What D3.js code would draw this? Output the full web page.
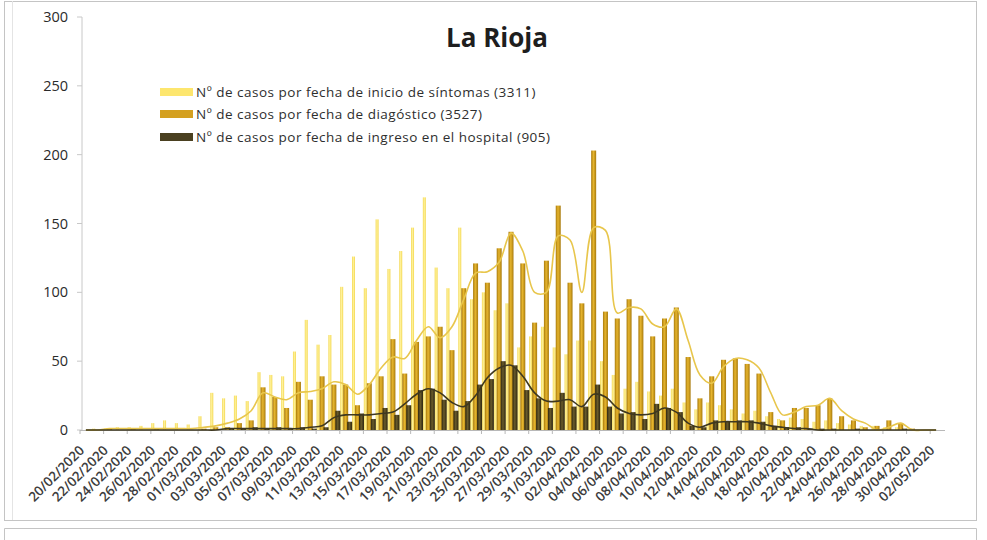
<!DOCTYPE html>
<meta charset="utf-8">
<script src="https://d3js.org/d3.v7.min.js"></script>
<style>
  body { margin: 0; background: #fff; }
  text { font-family: "Open Sans", sans-serif; }
</style>
<div id="chart"></div>
<script>
// days 20/02/2020 .. 02/05/2020
var dates = ["20/02/2020","21/02/2020","22/02/2020","23/02/2020","24/02/2020","25/02/2020","26/02/2020","27/02/2020","28/02/2020","29/02/2020",
  "01/03/2020","02/03/2020","03/03/2020","04/03/2020","05/03/2020","06/03/2020","07/03/2020","08/03/2020","09/03/2020","10/03/2020",
  "11/03/2020","12/03/2020","13/03/2020","14/03/2020","15/03/2020","16/03/2020","17/03/2020","18/03/2020","19/03/2020","20/03/2020",
  "21/03/2020","22/03/2020","23/03/2020","24/03/2020","25/03/2020","26/03/2020","27/03/2020","28/03/2020","29/03/2020","30/03/2020",
  "31/03/2020","01/04/2020","02/04/2020","03/04/2020","04/04/2020","05/04/2020","06/04/2020","07/04/2020","08/04/2020","09/04/2020",
  "10/04/2020","11/04/2020","12/04/2020","13/04/2020","14/04/2020","15/04/2020","16/04/2020","17/04/2020","18/04/2020","19/04/2020",
  "20/04/2020","21/04/2020","22/04/2020","23/04/2020","24/04/2020","25/04/2020","26/04/2020","27/04/2020","28/04/2020","29/04/2020",
  "30/04/2020","01/05/2020","02/05/2020"];

// shown labels (every 2 days)
var tickLabels = ["20/02/2020","22/02/2020","24/02/2020","26/02/2020","28/02/2020","01/03/2020","03/03/2020","05/03/2020","07/03/2020",
  "09/03/2020","11/03/2020","13/03/2020","15/03/2020","17/03/2020","19/03/2020","21/03/2020","23/03/2020","25/03/2020","27/03/2020",
  "29/03/2020","31/03/2020","02/04/2020","04/04/2020","06/04/2020","08/04/2020","10/04/2020","12/04/2020","14/04/2020","16/04/2020",
  "18/04/2020","20/04/2020","22/04/2020","24/04/2020","26/04/2020","28/04/2020","30/04/2020","02/05/2020"];

// bars
var sintomas = [0,1,1,2,2,3,5,7,5,4,
  10,27,23,25,21,42,40,39,57,80,
  62,69,104,126,103,153,117,130,147,169,
  118,103,147,95,100,87,92,60,68,75,
  60,55,65,65,50,40,30,35,28,25,
  30,20,15,20,18,15,12,14,10,8,
  9,8,6,7,5,4,3,3,2,2,
  1,0,0];
var diagnostico = [0,0,1,0,1,0,1,0,0,0,
  1,2,2,5,7,31,24,16,35,22,
  39,33,33,18,34,39,66,41,64,68,
  75,58,103,121,107,132,144,121,78,123,
  163,107,92,203,86,81,95,83,68,81,
  89,53,23,39,51,52,48,41,13,7,
  16,16,18,23,10,7,2,3,7,5,
  1,0,0];
var ingreso = [0,0,0,0,0,0,0,0,0,0,
  0,0,1,1,2,1,2,1,2,1,
  2,14,6,12,8,16,11,18,29,30,
  22,14,21,33,37,50,47,29,23,16,
  27,17,17,33,17,12,13,8,19,16,
  13,3,2,7,6,7,7,6,3,2,
  2,1,1,1,0,1,0,0,0,1,
  0,0,0];

// smoothed lines
var lineaDiagnostico = [0,0,1,1,1,1,1,1,1,1,
  2,3,5,8,14,27,24,22,27,28,
  30,35,33,26,33,45,53,52,65,75,
  67,75,95,114,115,122,143,130,100,100,
  141,138,100,147,145,85,89,88,77,75,
  88,65,40,34,46,52,51,45,27,11,
  13,17,18,23,14,8,5,0,2,5,
  0,0,0];
var lineaIngreso = [0,0,0,0,0,0,0,0,0,0,
  0,0,1,1,1,1,1,1,1,2,
  3,9,11,11,11,12,13,19,26,30,
  27,20,17,25,38,45,47,39,27,21,
  21,22,17,26,24,16,12,11,12,16,
  13,5,2,5,6,6,6,5,3,2,
  1,1,0,0,0,0,0,0,0,0,
  0,0,0];

var seriesNames = ["Nº de casos por fecha de inicio de síntomas (3311)",
  "Nº de casos por fecha de diagóstico (3527)",
  "Nº de casos por fecha de ingreso en el hospital (905)"];
var yTicks = [0, 50, 100, 150, 200, 250, 300];

var W = 987, H = 540;

var svg = d3.select("#chart").append("svg")
  .attr("width", W).attr("height", H);

svg.append("rect").attr("width", W).attr("height", H).attr("fill", "#fff");

// page frames
svg.append("rect").attr("x", 4.5).attr("y", 1.5).attr("width", 972).attr("height", 519)
  .attr("fill", "none").attr("stroke", "#c4c4c4");
svg.append("line").attr("x1", 12.5).attr("x2", 12.5).attr("y1", 1).attr("y2", 520)
  .attr("stroke", "#e4e4e4");
svg.append("path").attr("d", "M4.5,541 V528.5 H976.5 V541")
  .attr("fill", "none").attr("stroke", "#c4c4c4");

// gradients for the cylinder look
var defs = svg.append("defs");
function grad(id, edge, mid) {
  var g = defs.append("linearGradient").attr("id", id)
    .attr("x1", "0%").attr("x2", "100%").attr("y1", "0%").attr("y2", "0%");
  g.append("stop").attr("offset", "0%").attr("stop-color", edge);
  g.append("stop").attr("offset", "45%").attr("stop-color", mid);
  g.append("stop").attr("offset", "100%").attr("stop-color", edge);
}
grad("gY", "#f3d750", "#fff29a");
grad("gG", "#a87a0c", "#e6b52e");
grad("gD", "#2c2510", "#6a5c2c");

var x = d3.scaleBand().domain(dates).range([80, 942]);
var y = d3.scaleLinear().domain([0, 300]).range([430, 17]);
function cx(d) { return x(d) + x.bandwidth() / 2; }

// y axis
svg.append("line").attr("x1", 82).attr("x2", 82).attr("y1", y(300)).attr("y2", y(0))
  .attr("stroke", "#c8c8c8");
var yt = svg.append("g").selectAll("g").data(yTicks).enter().append("g");
yt.append("line").attr("x1", 77).attr("x2", 82)
  .attr("y1", function(d){ return y(d); }).attr("y2", function(d){ return y(d); })
  .attr("stroke", "#c8c8c8");
yt.append("text").attr("x", 68).attr("y", function(d){ return y(d); }).attr("dy", "0.35em")
  .attr("text-anchor", "end").attr("font-size", "14.5px").attr("fill", "#2a2a2a")
  .text(function(d){ return d; });

// x axis
svg.append("line").attr("x1", 80).attr("x2", 945).attr("y1", 430.5).attr("y2", 430.5)
  .attr("stroke", "#b8b8b8");
svg.append("g").selectAll("line").data(tickLabels).enter().append("line")
  .attr("x1", function(d){ return x(d); }).attr("x2", function(d){ return x(d); })
  .attr("y1", 430).attr("y2", 434).attr("stroke", "#b8b8b8");
svg.append("g").selectAll("text").data(tickLabels).enter().append("text")
  .attr("transform", function(d){ return "translate(" + (cx(d) - 4) + ",448)rotate(-45)"; })
  .attr("text-anchor", "end").attr("dy", "0.35em")
  .attr("font-size", "13.5px").attr("font-weight", 600).attr("fill", "#3c3c3c")
  .text(function(d){ return d; });

// bars
function bars(values, off, w, fill) {
  svg.append("g").selectAll("rect").data(values).enter().append("rect")
    .attr("x", function(d, i){ return cx(dates[i]) + off - w / 2; })
    .attr("width", w)
    .attr("y", function(d){ return y(d); })
    .attr("height", function(d){ return y(0) - y(d); })
    .attr("fill", fill);
}
bars(sintomas, -4, 3, "url(#gY)");
bars(diagnostico, 0, 5, "url(#gG)");
bars(ingreso, 4, 5, "url(#gD)");

// lines
var line = d3.line()
  .x(function(d, i){ return cx(dates[i]); })
  .y(function(d){ return y(d); })
  .curve(d3.curveCatmullRom.alpha(0.5));
svg.append("path").datum(lineaDiagnostico).attr("d", line)
  .attr("fill", "none").attr("stroke", "#e8c64c").attr("stroke-width", 1.6);
svg.append("path").datum(lineaIngreso).attr("d", line)
  .attr("fill", "none").attr("stroke", "#3e3820").attr("stroke-width", 1.6);

// title
svg.append("text").attr("x", 497).attr("y", 47).attr("text-anchor", "middle")
  .attr("font-size", "26px").attr("font-weight", 700).attr("fill", "#1e1e1e")
  .text("La Rioja");

// legend
var legFill = ["#fde66e", "#d4a020", "#4a4020"];
var legY = [92, 114, 137];
var leg = svg.append("g").selectAll("g").data(seriesNames).enter().append("g");
leg.append("rect").attr("x", 160).attr("width", 33).attr("height", 8)
  .attr("y", function(d, i){ return legY[i] - 4; })
  .attr("fill", function(d, i){ return legFill[i]; });
leg.append("text").attr("x", 196).attr("y", function(d, i){ return legY[i]; }).attr("dy", "0.35em")
  .attr("font-size", "13.5px").attr("letter-spacing", "0.5px").attr("fill", "#2e2e2e")
  .text(function(d){ return d; });
</script>
